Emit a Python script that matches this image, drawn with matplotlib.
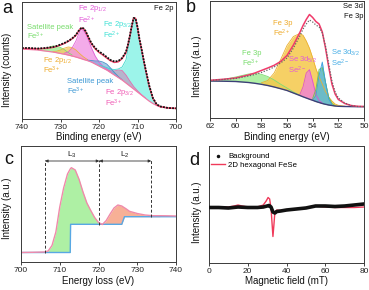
import numpy as np
import matplotlib
matplotlib.use("Agg")
import matplotlib.pyplot as plt
from matplotlib.lines import Line2D

plt.rcParams['font.family'] = ['Liberation Sans', 'DejaVu Sans']
plt.rcParams['mathtext.fontset'] = 'custom'
plt.rcParams['mathtext.rm'] = 'Liberation Sans'
plt.rcParams['mathtext.it'] = 'Liberation Sans:italic'
plt.rcParams['mathtext.bf'] = 'Liberation Sans:bold'

# ---------------- Panel a : Fe 2p XPS ----------------
x_a = [740, 738, 736, 734, 732, 731, 730, 729, 728, 727, 726, 725.5, 725, 724.5, 724, 723.5, 723,
       722, 721, 720, 719, 718, 717, 716, 715, 714, 713, 712.5, 712, 711.5, 711, 710.5, 710,
       709.5, 709, 708.5, 708, 707, 706, 705, 704, 702, 700]
bg_a = [70, 69.5, 69, 68, 67, 66.3, 65.5, 64.8, 64, 63, 62, 61.4, 60.8, 60.2, 59.5, 59, 58.4,
        57, 55, 53, 51, 49, 46.5, 44, 41.5, 39, 36, 34.5, 33, 31.5, 30, 28.5, 27,
        25.5, 24, 22.5, 21, 18, 15.5, 13.5, 12, 11, 10.5]
data_a = [71, 71, 70.5, 71, 72, 73, 74.5, 76, 78, 80.5, 84, 87, 89.5, 91.5, 90.5, 88, 84,
          76, 71, 67.5, 65, 62, 59, 57.5, 58, 61, 67, 74, 83, 93, 101, 100.5, 92,
          80, 71, 61, 51.6, 34, 21, 14.5, 12.5, 11, 10.7]
fit_a = [70.5, 70.5, 70.2, 70.6, 71.6, 72.6, 74, 75.6, 77.6, 80.2, 83.6, 86.8, 89.4, 91, 90.2, 87.6, 83.4,
         75.4, 70.2, 66.6, 64, 61, 58.2, 56.6, 57.2, 60.4, 66.4, 73.6, 82.6, 92.8, 101.2, 100.6, 91.6,
         79.6, 70.6, 60.6, 51, 33.4, 20.6, 14.2, 12.3, 11, 10.6]
sat1_x = [736, 734, 732, 731, 730, 729, 728, 727]
sat1_h = [0.5, 2.5, 6, 6.5, 6, 4.5, 2.5, 1]
or_x = [732, 731, 730, 729, 728, 727, 726, 725, 724, 723]
or_h = [0.5, 1.5, 3.5, 6, 8, 8.5, 7, 4.5, 2.5, 1]
mag_x = [729, 728, 727, 726, 725.5, 725, 724.5, 724, 723.5, 723, 722, 721, 720, 719, 718, 717]
mag_h = [1, 3, 8, 16, 21.5, 26.5, 29.5, 29, 26.5, 23, 14.5, 8, 4, 2, 1, 0.3]
sat2_x = [723, 722, 721, 720, 719, 718, 717, 716, 715, 714]
sat2_h = [0.5, 1.5, 3, 5, 6, 6, 4.5, 2.5, 1, 0.3]
pk3_x = [718, 717, 716, 715, 714, 713, 712, 711, 710, 709, 708]
pk3_h = [0.5, 1.5, 4, 7.5, 9.5, 8, 5, 2.5, 1.2, 0.5, 0.2]
cy_x = [720, 719, 718, 717, 716, 715, 714, 713, 712.5, 712, 711.5, 711, 710.5, 710, 709.5, 709,
        708.5, 708, 707, 706, 705, 704, 702]
cy_h = [1.2, 1.8, 2.5, 3.5, 5.5, 8.5, 13, 23, 35, 46, 58.5, 70, 71, 64, 54, 46.5,
        38, 30, 15.5, 5, 1, 0.3, 0]
ticks_a = [740, 730, 720, 710, 700]

# ---------------- Panel b : Se 3d / Fe 3p XPS ----------------
x_b = [62, 61, 60, 59, 58.5, 58, 57.5, 57, 56.5, 56, 55.5, 55, 54.75, 54.5, 54.25, 54, 53.75,
       53.5, 53.25, 53, 52.75, 52.5, 52.25, 52, 51.5, 51, 50.5, 50]
bg_b = [37, 36.8, 36.5, 35.5, 34.7, 33.7, 32.5, 31, 29.3, 27.5, 25, 22.5, 21.2, 20, 18.8, 17.7, 16.5,
        15.5, 14.5, 13.7, 13, 12.5, 12, 11.7, 11.5, 11.4, 11.3, 11.3]
fit_b = [37.7, 38.7, 40, 43, 45, 47.5, 50, 52.7, 56.5, 62.5, 73, 85.5, 92.5, 98.5, 103.5, 100.5, 96.5,
         94, 86, 70, 51, 34, 24, 18.5, 14.5, 12.5, 11.7, 11.5]
data_b = [37.5, 38.5, 39.5, 42, 43.5, 45.5, 48, 51, 55, 60, 70, 82, 89, 94, 98, 96, 93,
          91, 85, 72, 54, 37, 26, 20, 15, 12.5, 11.5, 11.5]
g1_x = [62, 61, 60, 59, 58.5, 58, 57.5, 57, 56.5, 56, 55.5, 55]
g1_h = [0.3, 1.5, 4.5, 8.5, 9.8, 10, 9, 7, 4.5, 2.5, 1, 0.3]
ye_x = [58, 57.5, 57, 56.5, 56, 55.5, 55, 54.75, 54.5, 54.25, 54, 53.75, 53.5, 53.25, 53, 52.75,
        52.5, 52.25, 52, 51.5]
ye_h = [1.5, 5, 14, 29, 45, 56.5, 62, 61.5, 57, 51, 42.5, 33, 25.5, 19.5, 12.6, 8, 4.5, 2, 1, 0.3]
mg_x = [55, 54.75, 54.5, 54.25, 54, 53.75, 53.5, 53.25]
mg_h = [1, 10, 25, 29.5, 19, 7, 2, 0.5]
g2_x = [54, 53.75, 53.5, 53.25, 53, 52.75, 52.5, 52.25]
g2_h = [2, 12, 33, 36, 22, 8, 2, 0.5]
bl_x = [54, 53.75, 53.5, 53.25, 53, 52.75, 52.5]
bl_h = [0.5, 6, 27, 41.5, 22, 6, 1]
ticks_b = [62, 60, 58, 56, 54, 52, 50]

# ---------------- Panel c : EELS ----------------
x_c = [700, 703, 706, 707, 708, 709, 710, 711, 712, 712.7, 712.8, 713, 714, 715, 716, 717, 718,
       719, 720, 721, 722, 723, 724, 725, 726, 726.7, 727, 728, 730, 732, 734, 736, 738, 740]
spec_c = [9.5, 9.7, 10, 11, 16.5, 30, 55, 74, 88, 93, 93.5, 94.3, 92, 82.5, 70, 59, 51.5,
          44.5, 39.5, 37.5, 41.5, 48, 54, 57, 56, 54.2, 53.5, 50.7, 48.5, 47, 46.3, 46.3, 46.2, 46]
bgc_c = [9.5] * 10 + [37.7] * 15 + [45.3] * 9
edges_c = [706.2, 720.2, 733.6]
edge_bottom_c = [8.7, 37, 45.3]
ticks_c = [700, 710, 720, 730, 740]

# ---------------- Panel d : EPR ----------------
x_red = [0, 5, 10, 13, 15, 17, 20, 25, 28, 29.5, 30.5, 31.3, 32, 32.5, 33, 33.5, 34, 35, 37, 40,
         45, 50, 55, 60, 65, 70, 75, 80]
y_red = [56, 56, 56, 57, 58, 57, 56, 56, 58, 62, 65.5, 64, 55, 41, 26.5, 38, 51, 53, 52.5, 53,
         54, 55, 57, 56, 55.5, 55.5, 55.5, 56]
x_blk = [0, 5, 10, 15, 20, 25, 28, 30, 31, 32, 33, 34, 35, 37, 40, 45, 50, 55, 60, 65, 70, 75, 80]
y_blk = [55.5, 55.5, 55, 56, 55.5, 55.5, 56, 57, 57.5, 56, 51, 50, 51.5, 52, 53, 54, 55, 57, 57,
         56.5, 57, 58, 59]
ticks_d = [0, 20, 40, 60, 80]

# ---------------- figure ----------------
W, H = 369, 290
fig = plt.figure(figsize=(W / 100, H / 100), dpi=100)


def add_ax(l, t, r, b):
    return fig.add_axes([l / W, 1 - b / H, (r - l) / W, (b - t) / H])


def ftext(x, y, s, color='#111111', size=5.5, ha='left', va='center', **kw):
    fig.text(x / W, 1 - y / H, s, color=color, fontsize=size, ha=ha, va=va, **kw)


ax_a = add_ax(22, 1.5, 176, 119)
ax_b = add_ax(210, 1.5, 364, 118)
ax_c = add_ax(21, 146, 176, 262)
ax_d = add_ax(209, 146, 364, 263)

for ax in (ax_a, ax_b, ax_c, ax_d):
    for s in ax.spines.values():
        s.set_color('#3a3a3a')
        s.set_linewidth(0.7)
    ax.set_yticks([])
    ax.tick_params(axis='x', direction='out', length=2.5, width=0.6, pad=1.2,
                   labelsize=6, colors='#222222')


def component(ax, xs, hs, bgmap, fc, ec, alpha):
    base = [bgmap[v] for v in xs]
    top = [b + h for b, h in zip(base, hs)]
    ax.fill_between(xs, base, top, color=fc, alpha=alpha, lw=0)
    ax.plot(xs, top, color=ec, lw=0.6)


# panel a
bgmap_a = dict(zip(x_a, bg_a))
component(ax_a, sat1_x, sat1_h, bgmap_a, '#9ded8f', '#7fdc70', 0.8)
component(ax_a, or_x, or_h, bgmap_a, '#f7c769', '#eeb040', 0.8)
component(ax_a, mag_x, mag_h, bgmap_a, '#f08fe2', '#e060d4', 0.75)
component(ax_a, cy_x, cy_h, bgmap_a, '#72f0e2', '#3fd8cc', 0.7)
component(ax_a, pk3_x, pk3_h, bgmap_a, '#c98ab8', '#e070b0', 0.6)
component(ax_a, sat2_x, sat2_h, bgmap_a, '#6aa8d8', '#4a90c8', 0.6)
ax_a.plot(x_a, bg_a, color='#f07aa8', lw=0.9)
ax_a.plot(x_a, fit_a, color='#f04468', lw=1.1)
ax_a.plot(x_a, data_a, color='#111111', lw=1.3, ls=(0, (1, 0.7)))
ax_a.set_xlim(740, 700)
ax_a.set_ylim(0, 117.5)
ax_a.set_xticks(ticks_a)

# panel b
bgmap_b = dict(zip(x_b, bg_b))
component(ax_b, g1_x, g1_h, bgmap_b, '#9ded8f', '#80dc72', 0.8)
component(ax_b, ye_x, ye_h, bgmap_b, '#f5c84a', '#eab030', 0.85)
component(ax_b, mg_x, mg_h, bgmap_b, '#f07ae0', '#e050d0', 0.75)
component(ax_b, g2_x, g2_h, bgmap_b, '#8fd36a', '#70c050', 0.75)
component(ax_b, bl_x, bl_h, bgmap_b, '#58b4e8', '#3aa0e0', 0.75)
ax_b.plot(x_b, bg_b, color='#3c3f78', lw=1.0)
ax_b.plot(x_b, fit_b, color='#f03a6a', lw=1.1)
ax_b.plot(x_b, data_b, color='#666666', lw=0.9, ls=(0, (1, 1.3)))
ax_b.set_xlim(62, 50)
ax_b.set_ylim(0, 116.5)
ax_b.set_xticks(ticks_b)

# panel c
xc = np.array(x_c)
ax_c.fill_between(x_c, bgc_c, spec_c, where=(xc >= 706) & (xc <= 721), color='#aef0a4',
                  lw=0, interpolate=True)
ax_c.fill_between(x_c, bgc_c, spec_c, where=(xc >= 720.2) & (xc <= 734), color='#f7b096',
                  lw=0, interpolate=True)
ax_c.plot(x_c, bgc_c, color='#58a8e4', lw=1.0)
ax_c.plot(x_c, spec_c, color='#f08aaa', lw=1.0)
ax_c.vlines(edges_c, edge_bottom_c, 102, colors='#333333', lw=0.7, linestyles=(0, (3, 2)))
for x0, x1, lab in ((edges_c[0], edges_c[1], 'L$_3$'), (edges_c[1], edges_c[2], 'L$_2$')):
    ax_c.annotate('', xy=(x0, 101), xytext=(x1, 101),
                  arrowprops=dict(arrowstyle='<|-|>', lw=0.6, color='#333333',
                                  shrinkA=0, shrinkB=0, mutation_scale=4))
    ax_c.text((x0 + x1) / 2, 107.5, lab, ha='center', va='center', fontsize=6, color='#222222')
ax_c.set_xlim(700, 740)
ax_c.set_ylim(0, 116)
ax_c.set_xticks(ticks_c)

# panel d
ax_d.plot(x_red, y_red, color='#f03a5a', lw=1.0, label='2D hexagonal FeSe', zorder=2)
ax_d.plot(x_blk, y_blk, color='#111111', lw=2.6, zorder=3)
ax_d.set_xlim(0, 80)
ax_d.set_ylim(0, 117)
ax_d.set_xticks(ticks_d)
handles = [Line2D([], [], color='#111111', marker='.', ls='none', markersize=3),
           Line2D([], [], color='#f03a5a', lw=1.0)]
ax_d.legend(handles, ['Background', '2D hexagonal FeSe'], loc='upper left',
            bbox_to_anchor=((210.5 - 209) / 155, (263 - 153) / 117), frameon=False,
            fontsize=5.6, handlelength=1.9, handletextpad=0.4, labelspacing=0.15,
            borderpad=0, borderaxespad=0, numpoints=1)

# x labels
ftext(99, 137, 'Binding energy (eV)', size=7, ha='center')
ftext(287, 136.5, 'Binding energy (eV)', size=7, ha='center')
ftext(98.5, 281.5, 'Energy loss (eV)', size=7, ha='center')
ftext(286.5, 281.5, 'Magnetic field (mT)', size=7, ha='center')
# y labels
ftext(6.7, 70, 'Intensity (counts)', size=7, ha='center', rotation=90)
ftext(197.3, 66, 'Intensity (a.u.)', size=7, ha='center', rotation=90)
ftext(7, 208, 'Intensity (a.u.)', size=7, ha='center', rotation=90)
ftext(197.3, 212, 'Intensity (a.u.)', size=7, ha='center', rotation=90)
# panel letters
ftext(7.2, 8.2, 'a', size=13, ha='center')
ftext(190.7, 8.0, 'b', size=13, ha='center')
ftext(9.2, 160.0, 'c', size=13, ha='center')
ftext(194.8, 160.5, 'd', size=13, ha='center')

# panel a annotations
ftext(27, 27.5, 'Satellite peak', '#78dc6c')
ftext(27, 36.5, 'Fe$^{3+}$', '#78dc6c')
ftext(78.3, 8.5, 'Fe 2p$_{1/2}$', '#e25ad8')
ftext(78.3, 20, 'Fe$^{2+}$', '#e25ad8')
ftext(102.7, 24.5, 'Fe 2p$_{3/2}$', '#3ee0d4')
ftext(102.7, 35.5, 'Fe$^{2+}$', '#3ee0d4')
ftext(43.3, 60, 'Fe 2p$_{1/2}$', '#eeaa2a')
ftext(43.3, 70, 'Fe$^{3+}$', '#eeaa2a')
ftext(66.7, 81.7, 'Satellite peak', '#3c98d4')
ftext(66.7, 91.7, 'Fe$^{3+}$', '#3c98d4')
ftext(105, 92, 'Fe 2p$_{3/2}$', '#f05ab4')
ftext(105, 103, 'Fe$^{3+}$', '#f05ab4')
ftext(173.5, 8.5, 'Fe 2p', '#111111', ha='right')

# panel b annotations
ftext(363, 6.7, 'Se 3d', '#111111', ha='right')
ftext(363, 17, 'Fe 3p', '#111111', ha='right')
ftext(273.3, 23.7, 'Fe 3p', '#eeaa2a')
ftext(273.3, 33, 'Fe$^{2+}$', '#eeaa2a')
ftext(288.3, 60, 'Se 3d$_{5/2}$', '#e25ad8')
ftext(288.3, 70.8, 'Se$^{2-}$', '#e25ad8')
ftext(331, 52.5, 'Se 3d$_{3/2}$', '#48aee6')
ftext(331, 63, 'Se$^{2-}$', '#48aee6')
ftext(242.3, 53.7, 'Fe 3p', '#78dc6c')
ftext(242.3, 63.3, 'Fe$^{3+}$', '#78dc6c')

fig.savefig('out.png', dpi=100)
